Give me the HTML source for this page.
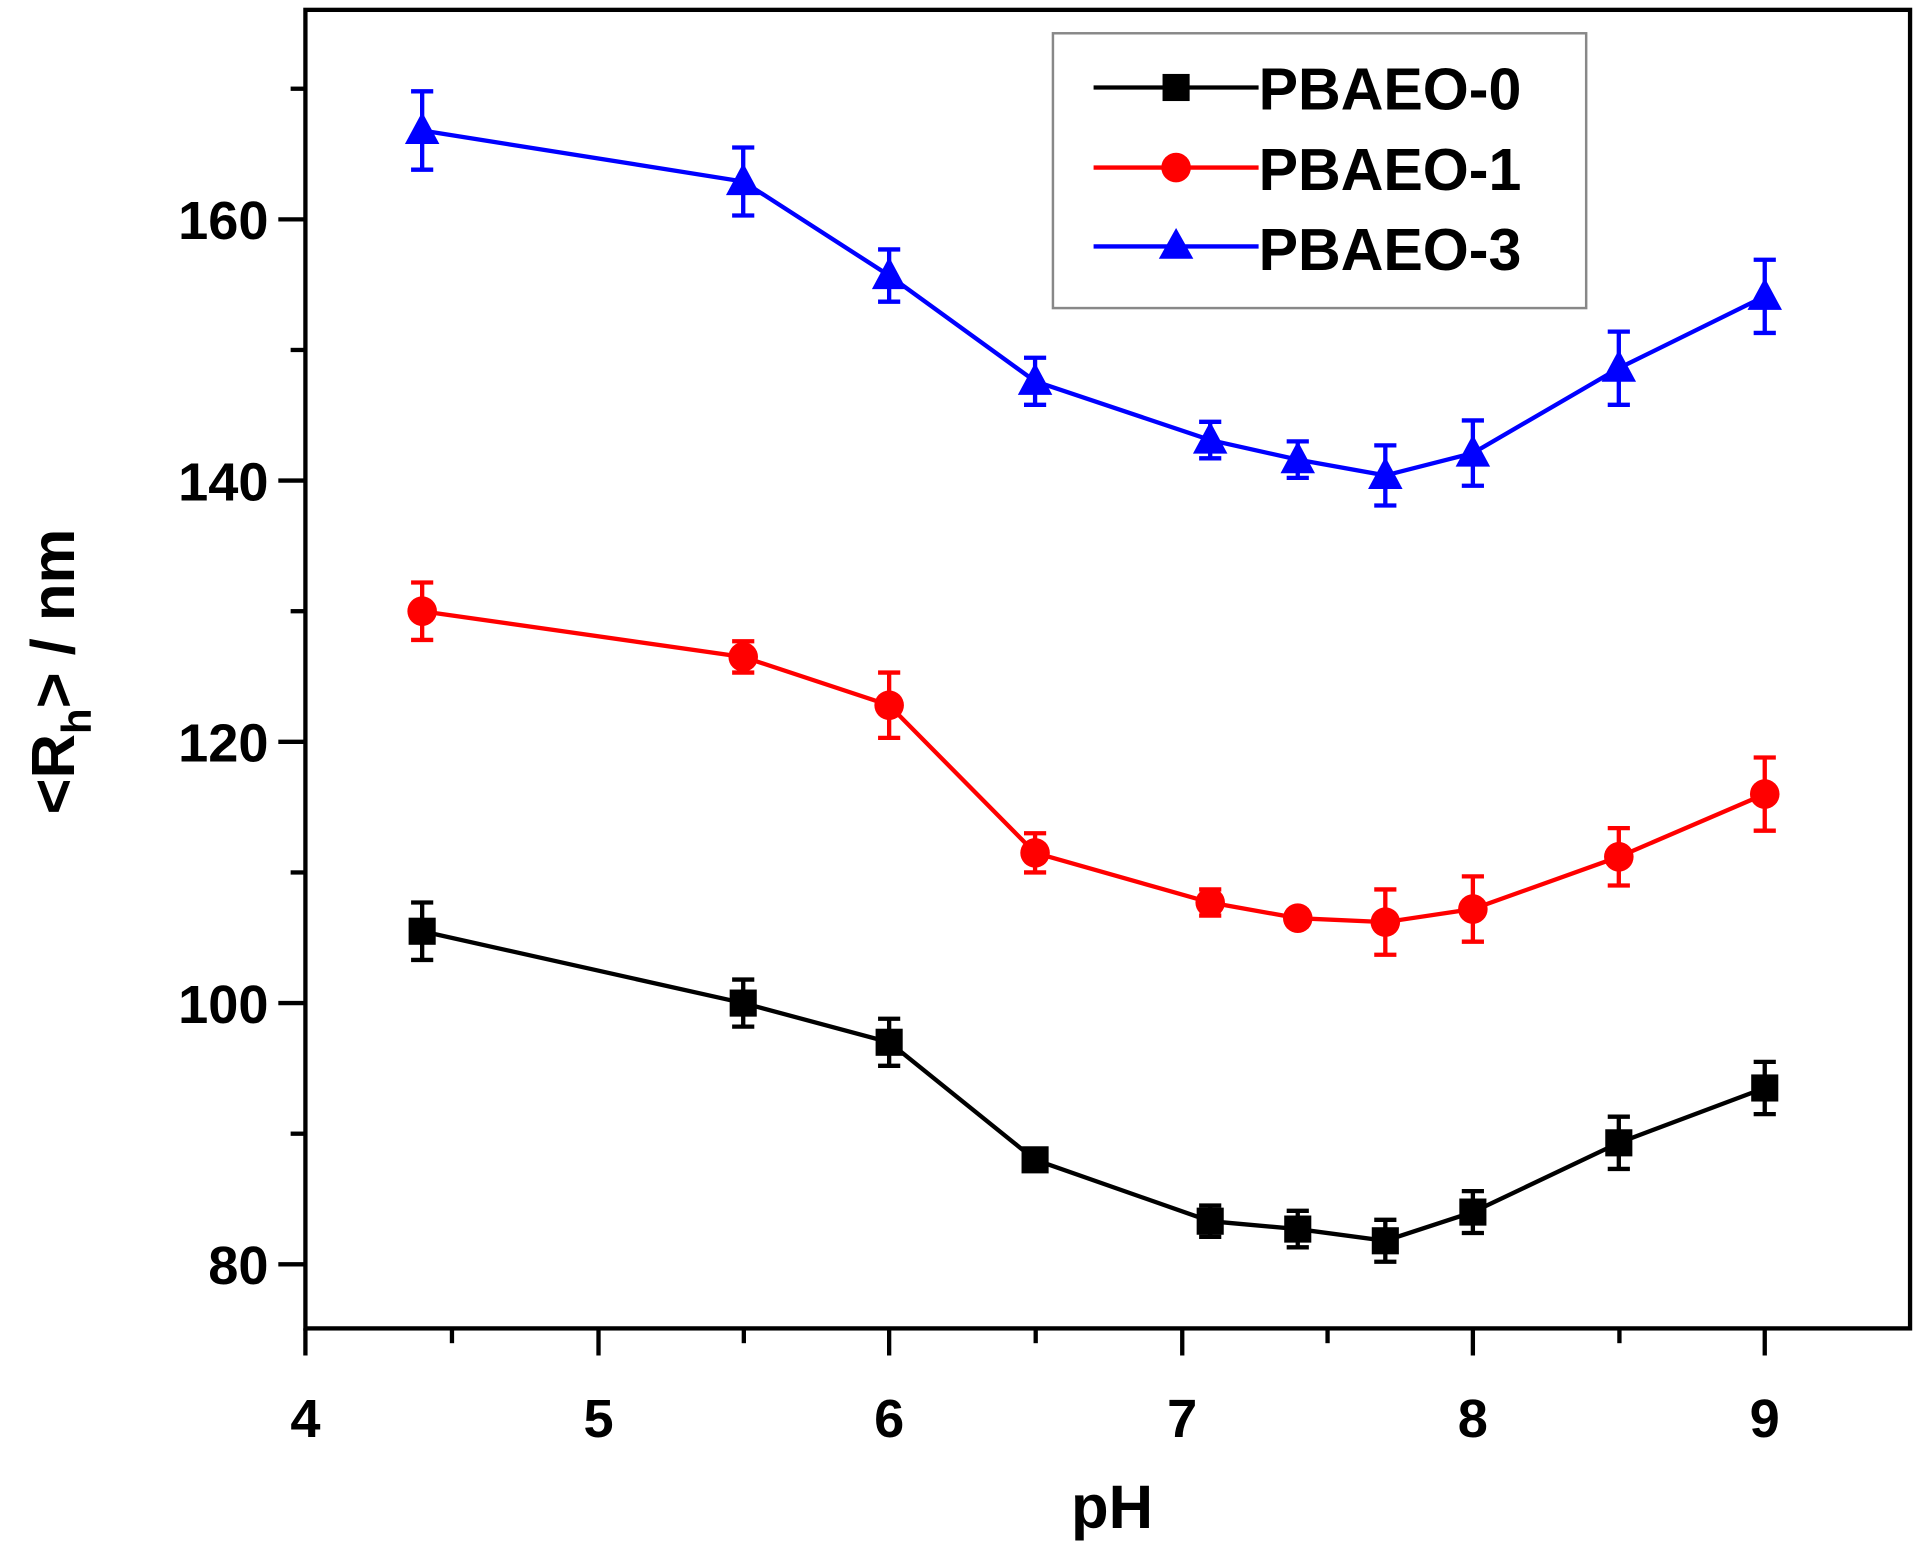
<!DOCTYPE html>
<html><head><meta charset="utf-8"><style>html,body{margin:0;padding:0;background:#fff}svg{display:block}</style></head>
<body>
<svg width="1931" height="1565" viewBox="0 0 1568 1270" preserveAspectRatio="none" xmlns="http://www.w3.org/2000/svg" font-family="Liberation Sans, Arial, sans-serif" font-weight="bold">
<rect width="1568" height="1270" fill="#fff"/>
<!-- black -->
<g stroke="#000" stroke-width="3.5" fill="none">
<polyline points="342.8,755.7 603.5,814 722,845.8 840.5,941.2 982.7,991 1053.8,997.4 1124.9,1006.9 1196,983.6 1314.5,927.4 1433,882.9"/>
<path d="M342.8,732.4V779M333.8,732.4h18M333.8,779h18 M603.5,794.9V833.1M594.5,794.9h18M594.5,833.1h18 M722,826.7V864.9M713,826.7h18M713,864.9h18 M840.5,932.7V949.7M831.5,932.7h18M831.5,949.7h18 M982.7,978.3V1003.7M973.7,978.3h18M973.7,1003.7h18 M1053.8,982.6V1012.2M1044.8,982.6h18M1044.8,1012.2h18 M1124.9,989.9V1023.9M1115.9,989.9h18M1115.9,1023.9h18 M1196,966.6V1000.6M1187,966.6h18M1187,1000.6h18 M1314.5,906.2V948.6M1305.5,906.2h18M1305.5,948.6h18 M1433,861.7V904.1M1424,861.7h18M1424,904.1h18"/>
</g>
<g fill="#000">
<rect x="331.8" y="744.7" width="22" height="22"/><rect x="592.5" y="803" width="22" height="22"/><rect x="711" y="834.8" width="22" height="22"/><rect x="829.5" y="930.2" width="22" height="22"/><rect x="971.7" y="980" width="22" height="22"/><rect x="1042.8" y="986.4" width="22" height="22"/><rect x="1113.9" y="995.9" width="22" height="22"/><rect x="1185" y="972.6" width="22" height="22"/><rect x="1303.5" y="916.4" width="22" height="22"/><rect x="1422" y="871.9" width="22" height="22"/>
</g>
<!-- red -->
<g stroke="#f00" stroke-width="3.5" fill="none">
<polyline points="342.8,496 603.5,533.1 722,572.3 840.5,692.1 982.7,732.4 1053.8,745.1 1124.9,748.3 1196,737.7 1314.5,695.3 1433,644.4"/>
<path d="M342.8,472.7V519.3M333.8,472.7h18M333.8,519.3h18 M603.5,520.4V545.8M594.5,520.4h18M594.5,545.8h18 M722,545.8V598.8M713,545.8h18M713,598.8h18 M840.5,676.2V708M831.5,676.2h18M831.5,708h18 M982.7,721.8V743M973.7,721.8h18M973.7,743h18 M1053.8,738.7V751.5M1044.8,738.7h18M1044.8,751.5h18 M1124.9,721.8V774.8M1115.9,721.8h18M1115.9,774.8h18 M1196,711.2V764.2M1187,711.2h18M1187,764.2h18 M1314.5,672V718.6M1305.5,672h18M1305.5,718.6h18 M1433,614.7V674.1M1424,614.7h18M1424,674.1h18"/>
</g>
<g fill="#f00">
<circle cx="342.8" cy="496" r="12"/><circle cx="603.5" cy="533.1" r="12"/><circle cx="722" cy="572.3" r="12"/><circle cx="840.5" cy="692.1" r="12"/><circle cx="982.7" cy="732.4" r="12"/><circle cx="1053.8" cy="745.1" r="12"/><circle cx="1124.9" cy="748.3" r="12"/><circle cx="1196" cy="737.7" r="12"/><circle cx="1314.5" cy="695.3" r="12"/><circle cx="1433" cy="644.4" r="12"/>
</g>
<!-- blue -->
<g stroke="#00f" stroke-width="3.5" fill="none">
<polyline points="342.8,105.9 603.5,147.3 722,223.6 840.5,309.4 982.7,357.1 1053.8,373 1124.9,385.8 1196,367.7 1314.5,298.8 1433,240.5"/>
<path d="M342.8,74.1V137.7M333.8,74.1h18M333.8,137.7h18 M603.5,119.7V174.9M594.5,119.7h18M594.5,174.9h18 M722,202.4V244.8M713,202.4h18M713,244.8h18 M840.5,290.3V328.5M831.5,290.3h18M831.5,328.5h18 M982.7,342.3V371.9M973.7,342.3h18M973.7,371.9h18 M1053.8,358.2V387.8M1044.8,358.2h18M1044.8,387.8h18 M1124.9,361.4V410.2M1115.9,361.4h18M1115.9,410.2h18 M1196,341.2V394.2M1187,341.2h18M1187,394.2h18 M1314.5,269.1V328.5M1305.5,269.1h18M1305.5,328.5h18 M1433,210.8V270.2M1424,210.8h18M1424,270.2h18"/>
</g>
<g fill="#00f">
<polygon points="342.8,90.9 328.8,116.9 356.8,116.9"/><polygon points="603.5,132.3 589.5,158.3 617.5,158.3"/><polygon points="722,208.6 708,234.6 736,234.6"/><polygon points="840.5,294.4 826.5,320.4 854.5,320.4"/><polygon points="982.7,342.1 968.7,368.1 996.7,368.1"/><polygon points="1053.8,358 1039.8,384 1067.8,384"/><polygon points="1124.9,370.8 1110.9,396.8 1138.9,396.8"/><polygon points="1196,352.7 1182,378.7 1210,378.7"/><polygon points="1314.5,283.8 1300.5,309.8 1328.5,309.8"/><polygon points="1433,225.5 1419,251.5 1447,251.5"/>
</g>
<rect x="248" y="8" width="1303" height="1070" fill="none" stroke="#000" stroke-width="3.5"/>
<g stroke="#000" stroke-width="3.5">
<line x1="248" y1="1078" x2="248" y2="1100"/><line x1="486" y1="1078" x2="486" y2="1100"/><line x1="722" y1="1078" x2="722" y2="1100"/><line x1="960" y1="1078" x2="960" y2="1100"/><line x1="1196" y1="1078" x2="1196" y2="1100"/><line x1="1433" y1="1078" x2="1433" y2="1100"/>
<line x1="367" y1="1078" x2="367" y2="1090"/><line x1="604" y1="1078" x2="604" y2="1090"/><line x1="841" y1="1078" x2="841" y2="1090"/><line x1="1078" y1="1078" x2="1078" y2="1090"/><line x1="1315" y1="1078" x2="1315" y2="1090"/>
<line x1="226" y1="1026" x2="248" y2="1026"/><line x1="226" y1="814" x2="248" y2="814"/><line x1="226" y1="602" x2="248" y2="602"/><line x1="226" y1="390" x2="248" y2="390"/><line x1="226" y1="178" x2="248" y2="178"/>
<line x1="236" y1="920" x2="248" y2="920"/><line x1="236" y1="708" x2="248" y2="708"/><line x1="236" y1="496" x2="248" y2="496"/><line x1="236" y1="284" x2="248" y2="284"/><line x1="236" y1="72" x2="248" y2="72"/>
</g>
<g font-size="44" text-anchor="middle">
<text x="248" y="1166">4</text><text x="486" y="1166">5</text><text x="722" y="1166">6</text><text x="960" y="1166">7</text><text x="1196" y="1166">8</text><text x="1433" y="1166">9</text>
</g>
<g font-size="44" text-anchor="end">
<text x="218" y="1042">80</text><text x="218" y="830">100</text><text x="218" y="618">120</text><text x="218" y="406">140</text><text x="218" y="194">160</text>
</g>
<text x="903" y="1240" font-size="50" text-anchor="middle">pH</text>
<text transform="translate(60,545) rotate(-90)" font-size="50" text-anchor="middle">&lt;R<tspan font-size="34" dy="14">h</tspan><tspan dy="-14">&gt; / nm</tspan></text>
<rect x="855" y="27" width="433" height="223" fill="#fff" stroke="#888" stroke-width="2"/>
<g font-size="48">
<line x1="888" y1="71" x2="1022" y2="71" stroke="#000" stroke-width="3.5"/><rect x="944" y="60" width="22" height="22" fill="#000"/><text x="1022" y="89">PBAEO-0</text>
<line x1="888" y1="136" x2="1022" y2="136" stroke="#f00" stroke-width="3.5"/><circle cx="955" cy="136" r="12" fill="#f00"/><text x="1022" y="154">PBAEO-1</text>
<line x1="888" y1="200" x2="1022" y2="200" stroke="#00f" stroke-width="3.5"/><polygon points="955,185 941,210 969,210" fill="#00f"/><text x="1022" y="219">PBAEO-3</text>
</g>
</svg>
</body></html>
